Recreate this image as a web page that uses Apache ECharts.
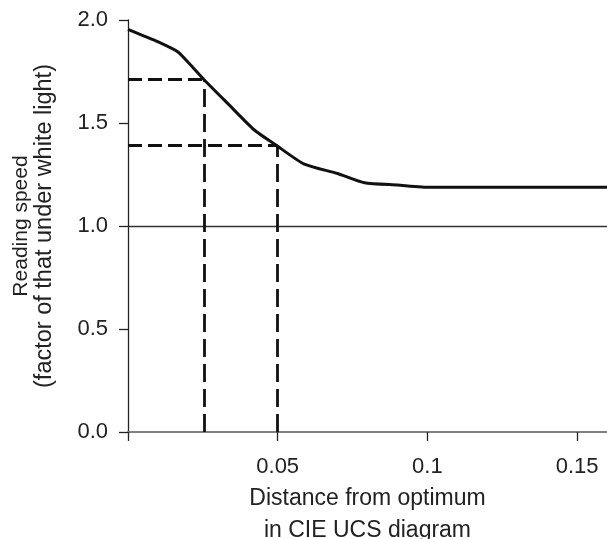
<!DOCTYPE html>
<html>
<head>
<meta charset="utf-8">
<script src="https://cdn.jsdelivr.net/npm/echarts@6/dist/echarts.min.js"></script>
<style>
html,body{margin:0;padding:0;background:#fff;}
#chart{width:607px;height:539px;}
</style>
</head>
<body>
<div id="chart"></div>
<script>
// Curve
const curveX = [0, 0.0054, 0.0099, 0.0166, 0.021, 0.0255, 0.0333, 0.0422, 0.0494, 0.0589, 0.07, 0.079, 0.09, 0.101, 0.16];
const curveY = [1.955, 1.922, 1.895, 1.846, 1.78, 1.709, 1.595, 1.466, 1.393, 1.30, 1.255, 1.21, 1.199, 1.188, 1.188];
// Dashed guide points (x, y) where dashes meet the curve
const guideX = [0.0255, 0.05];
const guideY = [1.71, 1.39];
// Reference line
const refLineY = 1.0;
// Tick labels
const xTickValues = [0.05, 0.1, 0.15];
const xTickLabels = ['0.05', '0.1', '0.15'];
const yTickLabels = ['0.0', '0.5', '1.0', '1.5', '2.0'];

const FONT = "'Liberation Sans', Arial, Helvetica, sans-serif";
const chart = echarts.init(document.getElementById('chart'), null, {renderer: 'canvas'});

const curveData = curveX.map((x, i) => [x, curveY[i]]);
const guideLines = [];
guideX.forEach((gx, i) => {
  guideLines.push([
    {coord: [0, guideY[i]], lineStyle: {type: [14, 6], width: 3, color: '#111'}},
    {coord: [gx, guideY[i]]}
  ]);
  guideLines.push([
    {coord: [gx, 0], lineStyle: {type: [18, 7], width: 2.8, color: '#111'}},
    {coord: [gx, guideY[i]]}
  ]);
});

chart.setOption({
  animation: false,
  backgroundColor: '#fff',
  grid: {left: 128, right: 0, top: 20, bottom: 107, containLabel: false, outerBoundsMode: 'none'},
  xAxis: {
    type: 'value', min: 0, max: 0.16, interval: 0.05,
    name: 'Distance from optimum\nin CIE UCS diagram',
    nameLocation: 'middle', nameGap: 50,
    nameTextStyle: {fontFamily: FONT, fontSize: 23, color: '#222', lineHeight: 32},
    axisLine: {show: true, onZero: false, lineStyle: {color: '#808080', width: 2}},
    axisTick: {show: true, length: 9, lineStyle: {color: '#222', width: 1.3}},
    axisLabel: {
      fontFamily: FONT, fontSize: 22, color: '#222', margin: 24,
      showMaxLabel: false,
      formatter: function (v) {
        for (let i = 0; i < xTickValues.length; i++) {
          if (Math.abs(v - xTickValues[i]) < 1e-9) return xTickLabels[i];
        }
        return '';
      }
    },
    splitLine: {show: false}
  },
  yAxis: {
    type: 'value', min: 0, max: 2.0, interval: 0.5,
    name: '{a|Reading speed}\n{b|(factor of that under white light)}',
    nameLocation: 'middle', nameRotate: 90, nameGap: 71,
    nameTextStyle: {
      fontFamily: FONT, color: '#222', align: 'center',
      rich: {
        a: {fontFamily: FONT, fontSize: 21, color: '#222', lineHeight: 22},
        b: {fontFamily: FONT, fontSize: 23.5, color: '#222', lineHeight: 25}
      }
    },
    axisLine: {show: true, onZero: false, lineStyle: {color: '#222', width: 1.3}},
    axisTick: {show: true, length: 9, lineStyle: {color: '#222', width: 1.3}},
    axisLabel: {
      fontFamily: FONT, fontSize: 22, color: '#222', margin: 20,
      formatter: function (v) { return yTickLabels[Math.round(v / 0.5)] || ''; }
    },
    splitLine: {show: false}
  },
  series: [
    {
      type: 'line',
      data: curveData,
      symbol: 'none',
      smooth: 0.2,
      lineStyle: {color: '#111', width: 3},
      z: 5,
      markLine: {
        silent: true,
        symbol: ['none', 'none'],
        label: {show: false},
        data: [
          {yAxis: refLineY, lineStyle: {type: 'solid', width: 1.3, color: '#333'}}
        ].concat(guideLines)
      }
    }
  ]
});
</script>
</body>
</html>
